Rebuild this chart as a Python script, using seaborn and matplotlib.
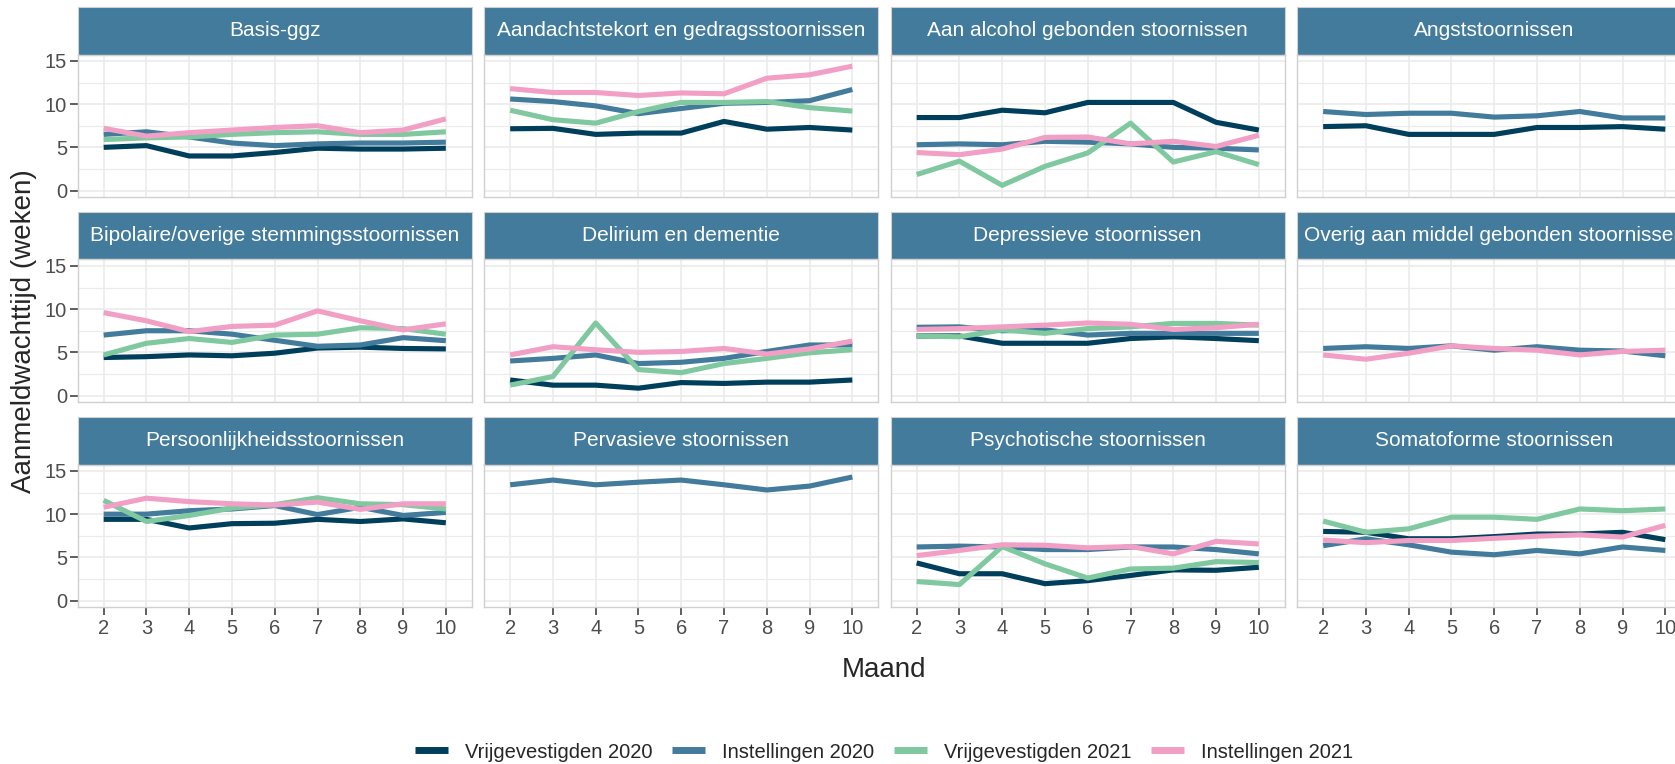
import numpy as np
import pandas as pd
import seaborn as sns
import matplotlib.pyplot as plt
from matplotlib.patches import Rectangle
from matplotlib.lines import Line2D

# months on x axis
maanden = [2, 3, 4, 5, 6, 7, 8, 9, 10]

panels = ['Basis-ggz',
          'Aandachtstekort en gedragsstoornissen',
          'Aan alcohol gebonden stoornissen',
          'Angststoornissen',
          'Bipolaire/overige stemmingsstoornissen',
          'Delirium en dementie',
          'Depressieve stoornissen',
          'Overig aan middel gebonden stoornissen',
          'Persoonlijkheidsstoornissen',
          'Pervasieve stoornissen',
          'Psychotische stoornissen',
          'Somatoforme stoornissen']

series = ['Vrijgevestigden 2020', 'Instellingen 2020', 'Vrijgevestigden 2021', 'Instellingen 2021']
kleuren = ['#003f5c', '#427b9b', '#7fc8a0', '#f29fc5']

# one list per panel (same order as panels), None = no data
vrij_2020 = [
    [5.0, 5.2, 4.0, 4.0, 4.4, 4.9, 4.8, 4.8, 4.9],
    [7.15, 7.2, 6.5, 6.65, 6.65, 8.0, 7.1, 7.3, 7.0],
    [8.45, 8.45, 9.3, 9.0, 10.2, 10.2, 10.2, 7.9, 7.0],
    [7.4, 7.5, 6.5, 6.5, 6.5, 7.3, 7.3, 7.4, 7.1],
    [4.4, 4.5, 4.7, 4.6, 4.9, 5.5, 5.6, 5.45, 5.4],
    [1.8, 1.2, 1.2, 0.85, 1.5, 1.4, 1.55, 1.55, 1.8],
    [6.9, 6.9, 6.05, 6.05, 6.05, 6.6, 6.8, 6.6, 6.35],
    None,
    [9.4, 9.4, 8.4, 8.9, 8.95, 9.4, 9.15, 9.45, 9.0],
    None,
    [4.35, 3.1, 3.1, 1.95, 2.3, 2.9, 3.55, 3.5, 3.85],
    [8.0, 7.9, 7.15, 7.15, 7.4, 7.7, 7.7, 7.9, 7.05],
]
inst_2020 = [
    [6.5, 6.8, 6.2, 5.5, 5.2, 5.4, 5.5, 5.5, 5.6],
    [10.6, 10.3, 9.8, 8.9, 9.5, 10.1, 10.2, 10.4, 11.7],
    [5.3, 5.4, 5.3, 5.7, 5.6, 5.4, 5.0, 4.9, 4.7],
    [9.15, 8.8, 8.95, 8.95, 8.5, 8.65, 9.15, 8.4, 8.4],
    [7.0, 7.5, 7.5, 7.1, 6.4, 5.7, 5.85, 6.7, 6.35],
    [4.0, 4.3, 4.7, 3.7, 3.85, 4.3, 5.1, 5.85, 5.85],
    [7.9, 7.95, 7.5, 7.6, 7.0, 7.2, 7.2, 7.2, 7.2],
    [5.45, 5.65, 5.45, 5.75, 5.25, 5.65, 5.25, 5.15, 4.6],
    [10.0, 10.0, 10.4, 10.6, 11.0, 9.95, 10.8, 9.85, 10.2],
    [13.4, 13.95, 13.4, 13.7, 13.95, 13.4, 12.8, 13.25, 14.3],
    [6.2, 6.3, 6.2, 5.9, 5.9, 6.2, 6.2, 5.9, 5.4],
    [6.35, 7.15, 6.45, 5.6, 5.3, 5.8, 5.4, 6.2, 5.8],
]
vrij_2021 = [
    [5.9, 6.1, 6.2, 6.5, 6.7, 6.8, 6.5, 6.5, 6.8],
    [9.3, 8.2, 7.8, 9.15, 10.2, 10.2, 10.3, 9.6, 9.2],
    [1.85, 3.4, 0.6, 2.8, 4.35, 7.8, 3.3, 4.5, 3.0],
    None,
    [4.7, 6.05, 6.6, 6.15, 7.0, 7.1, 7.85, 7.75, 7.1],
    [1.2, 2.2, 8.4, 3.0, 2.65, 3.7, 4.3, 4.95, 5.3],
    [6.9, 6.8, 7.6, 7.2, 7.75, 7.95, 8.35, 8.35, 8.15],
    None,
    [11.6, 9.15, 9.85, 10.7, 11.1, 11.9, 11.2, 11.1, 10.6],
    None,
    [2.2, 1.85, 6.25, 4.25, 2.6, 3.65, 3.75, 4.5, 4.4],
    [9.2, 7.9, 8.3, 9.65, 9.65, 9.4, 10.6, 10.4, 10.6],
]
inst_2021 = [
    [7.2, 6.3, 6.7, 7.0, 7.3, 7.5, 6.7, 7.0, 8.3],
    [11.8, 11.35, 11.35, 11.0, 11.3, 11.2, 13.0, 13.4, 14.4],
    [4.4, 4.15, 4.8, 6.15, 6.2, 5.4, 5.7, 5.1, 6.4],
    None,
    [9.6, 8.65, 7.4, 8.0, 8.15, 9.8, 8.65, 7.6, 8.3],
    [4.7, 5.65, 5.3, 5.0, 5.1, 5.45, 4.8, 5.4, 6.3],
    [7.65, 7.75, 7.95, 8.15, 8.4, 8.25, 7.65, 7.85, 8.25],
    [4.7, 4.2, 4.9, 5.75, 5.45, 5.25, 4.7, 5.1, 5.25],
    [10.8, 11.85, 11.45, 11.2, 11.05, 11.4, 10.55, 11.2, 11.2],
    None,
    [5.2, 5.8, 6.45, 6.4, 6.1, 6.25, 5.4, 6.85, 6.55],
    [7.0, 6.7, 6.95, 6.95, 7.2, 7.45, 7.6, 7.35, 8.7],
]

rows = []
for naam, waarden in zip(series, [vrij_2020, inst_2020, vrij_2021, inst_2021]):
    for panel, vals in zip(panels, waarden):
        if vals is None:
            continue
        for m, v in zip(maanden, vals):
            rows.append({'stoornis': panel, 'Maand': m, 'weken': v, 'groep': naam})
df = pd.DataFrame(rows)

sns.set_theme(style='white')
plt.rcParams['font.family'] = ['Liberation Sans', 'DejaVu Sans']
plt.rcParams['lines.solid_capstyle'] = 'butt'
plt.rcParams['lines.solid_joinstyle'] = 'round'

strip_kleur = '#427b9b'
pal = dict(zip(series, kleuren))

W, H = 1675, 764
fig, axes = plt.subplots(3, 4, figsize=(W / 100, H / 100), dpi=100,
                         gridspec_kw=dict(left=78 / W, right=1691 / W,
                                          top=1 - 54.5 / H, bottom=1 - 607 / H,
                                          wspace=13 / 394, hspace=62.5 / 142.5))

for i, (ax, panel) in enumerate(zip(axes.flat, panels)):
    sub = df[df['stoornis'] == panel]
    sns.lineplot(data=sub, x='Maand', y='weken', hue='groep', hue_order=series,
                 palette=pal, linewidth=3.7, legend=False, ax=ax)
    ax.set_xlim(1.4, 10.6)
    ax.set_ylim(-0.75, 15.75)
    ax.set_xticks(maanden)
    ax.set_yticks([0, 5, 10, 15])
    ax.set_yticks([2.5, 7.5, 12.5], minor=True)
    ax.grid(True, which='major', color='#ebebeb', lw=1.2)
    ax.grid(True, which='minor', axis='y', color='#ebebeb', lw=0.8)
    ax.set_axisbelow(True)
    ax.set_xlabel('')
    ax.set_ylabel('')
    for s in ax.spines.values():
        s.set_color('#d0d0d0')
        s.set_linewidth(1.0)
    r, c = divmod(i, 4)
    ax.tick_params(which='minor', length=0)
    ax.tick_params(axis='y', which='major', length=6, width=1.1, color='#333333',
                   labelsize=14.5, labelcolor='#4d4d4d', pad=2, left=(c == 0), labelleft=(c == 0))
    ax.tick_params(axis='x', which='major', length=6, width=1.1, color='#333333',
                   labelsize=14.5, labelcolor='#4d4d4d', pad=3, bottom=(r == 2), labelbottom=(r == 2))
    # strip on top of each panel
    sh = 47.6 / 142.5
    ax.add_patch(Rectangle((0, 1), 1, sh, transform=ax.transAxes, clip_on=False,
                           facecolor=strip_kleur, edgecolor='#d0d0d0', lw=0.8))
    ax.text(0.5, 1 + sh / 2, panel, transform=ax.transAxes, ha='center', va='center',
            color='white', fontsize=15)

fig.text(884 / W, 1 - 670 / H, 'Maand', ha='center', va='center', fontsize=20)
fig.text(24 / W, 1 - 331 / H, 'Aanmeldwachttijd (weken)', ha='center', va='center',
         rotation=90, fontsize=20)

handles = [Line2D([], [], color=k, lw=5) for k in kleuren]
fig.legend(handles, series, loc='center', bbox_to_anchor=(884 / W, 1 - 752 / H), ncol=4,
           frameon=False, fontsize=14.5, handlelength=1.65, handletextpad=0.85,
           columnspacing=0.95)

fig.savefig('out.png', dpi=100)
